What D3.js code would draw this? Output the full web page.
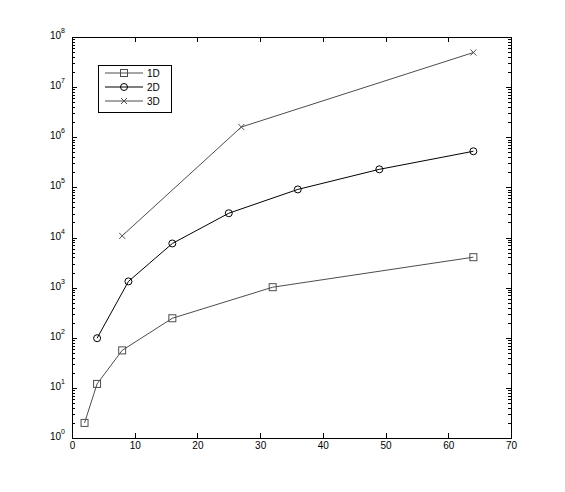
<!DOCTYPE html>
<html>
<head>
<meta charset="utf-8">
<script src="https://cdn.jsdelivr.net/npm/d3@7"></script>
<style>
  body { margin: 0; background: #fff; }
  svg { display: block; }
  .axis path, .axis line { stroke: #000; shape-rendering: crispEdges; }
  .axis text { font-family: "Liberation Sans", Arial, sans-serif; font-size: 10px; fill: #000; }
  .legend text { font-family: "Liberation Sans", Arial, sans-serif; font-size: 10px; fill: #000; }
</style>
</head>
<body>
<div id="chart"></div>
<script>
// data
const series = ["1D", "2D", "3D"];
const x1D = [2, 4, 8, 16, 32, 64];
const y1D = [2, 12, 56, 245, 1020, 4050];
const x2D = [4, 9, 16, 25, 36, 49, 64];
const y2D = [98, 1330, 7600, 30500, 91000, 229000, 525000];
const x3D = [8, 27, 64];
const y3D = [10800, 1.6e6, 4.9e7];
const xTicks = [0, 10, 20, 30, 40, 50, 60, 70];
const yExponents = [0, 1, 2, 3, 4, 5, 6, 7, 8];

const width = 565, height = 492;
const margin = { top: 37, right: 54, bottom: 54, left: 72 };

const svg = d3.select("#chart").append("svg")
  .attr("width", width)
  .attr("height", height);

const x = d3.scaleLinear().domain([0, 70]).range([margin.left, width - margin.right]);
const y = d3.scaleLog().domain([1, 1e8]).range([height - margin.bottom, margin.top]);

// minor log ticks
let minors = [];
yExponents.slice(0, -1).forEach(e => {
  for (let k = 2; k <= 9; k++) minors.push(k * Math.pow(10, e));
});
const majors = yExponents.map(e => Math.pow(10, e));

const x0 = x.range()[0], x1 = x.range()[1];
const yb = y.range()[0], yt = y.range()[1];

// x axes (bottom + top)
svg.append("g").attr("class", "axis")
  .attr("transform", `translate(0,${yb})`)
  .call(d3.axisBottom(x).tickValues(xTicks).tickFormat(d3.format("d")).tickSizeInner(-5).tickSizeOuter(0).tickPadding(4))
  .call(g => g.selectAll("text").attr("dy", "0.71em"));

svg.append("g").attr("class", "axis")
  .attr("transform", `translate(0,${yt})`)
  .call(d3.axisTop(x).tickValues(xTicks).tickFormat("").tickSizeInner(-5).tickSizeOuter(0));

function yAxis(gen, values, size) {
  return gen(y).tickValues(values).tickFormat("").tickSizeInner(size).tickSizeOuter(0);
}

const left = svg.append("g").attr("class", "axis").attr("transform", `translate(${x0},0)`);
left.call(yAxis(d3.axisLeft, majors, -5));
left.append("g").call(yAxis(d3.axisLeft, minors, -3)).select(".domain").remove();

const right = svg.append("g").attr("class", "axis").attr("transform", `translate(${x1},0)`);
right.call(yAxis(d3.axisRight, majors, -5));
right.append("g").call(yAxis(d3.axisRight, minors, -3)).select(".domain").remove();

// y tick labels 10^n
const ylab = left.selectAll(".ylab").data(yExponents).join("text")
  .attr("class", "ylab")
  .attr("x", -7)
  .attr("y", d => y(Math.pow(10, d)) + 2)
  .attr("text-anchor", "end");
ylab.append("tspan").text("10");
ylab.append("tspan").attr("dy", -6).attr("font-size", "7px").text(d => d);

// lines
const data = [
  { name: "1D", xs: x1D, ys: y1D, color: "#4d4d4d", marker: "square" },
  { name: "2D", xs: x2D, ys: y2D, color: "#000000", marker: "circle" },
  { name: "3D", xs: x3D, ys: y3D, color: "#4d4d4d", marker: "cross" }
];

const line = d3.line().x(d => x(d[0])).y(d => y(d[1]));

function drawMarker(g, type, color) {
  if (type === "square") {
    g.append("rect").attr("x", -3.5).attr("y", -3.5).attr("width", 7).attr("height", 7)
      .attr("fill", "none").attr("stroke", color);
  } else if (type === "circle") {
    g.append("circle").attr("r", 3.5).attr("fill", "none").attr("stroke", color);
  } else {
    g.append("path").attr("d", "M-3,-3L3,3M-3,3L3,-3").attr("stroke", color);
  }
}

data.forEach(s => {
  const pts = s.xs.map((v, i) => [v, s.ys[i]]);
  svg.append("path")
    .attr("d", line(pts))
    .attr("fill", "none")
    .attr("stroke", s.color)
    .attr("stroke-width", 1);
  pts.forEach(p => {
    const g = svg.append("g").attr("transform", `translate(${x(p[0])},${y(p[1])})`);
    drawMarker(g, s.marker, s.color);
  });
});

// legend
const legend = svg.append("g").attr("class", "legend").attr("transform", "translate(98,65)");
legend.append("rect")
  .attr("x", 0.5).attr("y", 0.5).attr("width", 73).attr("height", 47)
  .attr("fill", "#fff").attr("stroke", "#000");

data.forEach((s, i) => {
  const row = legend.append("g").attr("transform", `translate(0,${8 + i * 14})`);
  row.append("line").attr("x1", 7).attr("x2", 45).attr("y1", 0).attr("y2", 0)
    .attr("stroke", s.color);
  const m = row.append("g").attr("transform", "translate(26,0)");
  drawMarker(m, s.marker, s.color);
  row.append("text").attr("x", 49).attr("y", 4).text(series[i]);
});
</script>
</body>
</html>
